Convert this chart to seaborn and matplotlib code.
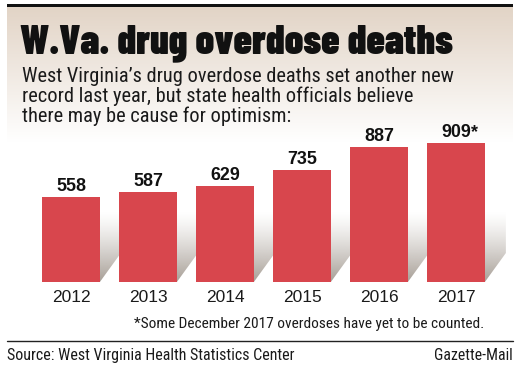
import matplotlib
matplotlib.use("Agg")
import numpy as np
import matplotlib.pyplot as plt
from matplotlib import font_manager as fm
from matplotlib.patches import Rectangle, PathPatch
from matplotlib.path import Path
from matplotlib.colors import to_rgb
import seaborn as sns

# ---- data ----
years = ["2012", "2013", "2014", "2015", "2016", "2017"]
deaths = [558, 587, 629, 735, 887, 909]
notes = ["", "", "", "", "", "*"]

title = "W.Va. drug overdose deaths"
subtitle_lines = [
    "West Virginia\u2019s drug overdose deaths set another new",
    "record last year, but state health officials believe",
    "there may be cause for optimism:",
]
footnote = "*Some December 2017 overdoses have yet to be counted."
source = "Source: West Virginia Health Statistics Center"
credit = "Gazette-Mail"

# ---- fonts ----
available = {f.name for f in fm.fontManager.ttflist}


def pick(cands):
    for c in cands:
        if c in available:
            return c
    return "DejaVu Sans"


F_TITLE = pick(["Barlow Condensed", "Archivo Narrow", "Asap Condensed", "DejaVu Sans"])
F_COND = pick(["Roboto Condensed", "Archivo Narrow", "Barlow Semi Condensed", "Liberation Sans Narrow", "Liberation Sans"])
F_SANS = pick(["Liberation Sans", "Arimo", "DejaVu Sans"])

sns.set_style("white")

W, H = 525, 375
fig = plt.figure(figsize=(W / 100, H / 100), dpi=100)
fig.patch.set_facecolor("white")

# background/decor axes in pixel coordinates (origin top-left)
bg = fig.add_axes([0, 0, 1, 1])
bg.set_xlim(0, W)
bg.set_ylim(H, 0)
bg.axis("off")

# beige gradient header box
top_c = np.array(to_rgb("#e2d4c6"))
grad = np.linspace(0, 1, 256)[:, None]
img = top_c[None, None, :] * (1 - grad[..., None]) + np.ones(3)[None, None, :] * grad[..., None]
img = np.repeat(img, 2, axis=1)
bg.imshow(img, extent=(7, 513, 142, 7), aspect="auto", interpolation="bilinear", zorder=0)
bg.set_xlim(0, W)
bg.set_ylim(H, 0)
bg.add_patch(Rectangle((7, 3.5), 506, 3.6, color="#111111", lw=0, zorder=2))
bg.plot([7, 513], [341, 341], color="#222222", lw=1.0, zorder=2)

renderer = fig.canvas.get_renderer()


def fit_text(axx, x, y, s, width_px, ha="left", **kw):
    t = axx.text(x, y, s, fontsize=10, ha=ha, va="baseline", **kw)
    w = t.get_window_extent(renderer).width
    t.set_fontsize(10 * width_px / w)
    return t


fit_text(bg, 20, 53, title, 433, family=F_TITLE, fontweight=900, color="#111111", zorder=3)
t1 = fit_text(bg, 22, 81.7, subtitle_lines[0], 427, family=F_COND, color="#1a1a1a", zorder=3)
sub_fs = t1.get_fontsize()
bg.text(22, 101.7, subtitle_lines[1], fontsize=sub_fs, family=F_COND, color="#1a1a1a", va="baseline", zorder=3)
bg.text(22, 121.7, subtitle_lines[2], fontsize=sub_fs, family=F_COND, color="#1a1a1a", va="baseline", zorder=3)

fit_text(bg, 484, 328.3, footnote, 347, ha="right", family=F_COND, color="#1a1a1a", zorder=3)
fit_text(bg, 7, 360, source, 285, family=F_COND, color="#1a1a1a", zorder=3)
fit_text(bg, 513, 360, credit, 78, ha="right", family=F_COND, color="#1a1a1a", zorder=3)

# ---- bar axes: data coords mapped onto figure pixels ----
ax = fig.add_axes([0, 0, 1, 1])
ax.patch.set_alpha(0)
k = 0.1527          # pixels per death
base_px = 282       # baseline (from top)
x0_px, step_px = 71, 77

sns.barplot(x=years, y=deaths, color="#d8464d", saturation=1, width=0.75,
            linewidth=0, ax=ax, zorder=3)
ax.set_xlim(-x0_px / step_px, (W - x0_px) / step_px)
ax.set_ylim(-(H - base_px) / k, base_px / k)
ax.axis("off")

# 3D-ish side shadows (gradient clipped to parallelograms)
half = 0.375
dx = 21 / step_px
dy = 29 / k
top = 460
paths = []
for i, v in enumerate(deaths):
    xr = i + half
    verts = [(xr, 0), (xr + dx, dy), (xr + dx, min(top, v + dy)), (xr, min(top, v)), (xr, 0)]
    paths.append(Path(verts, [Path.MOVETO, Path.LINETO, Path.LINETO, Path.LINETO, Path.CLOSEPOLY]))
clip = PathPatch(Path.make_compound_path(*paths), facecolor="none", edgecolor="none", transform=ax.transData)
ax.add_patch(clip)
sh = np.zeros((256, 2, 4))
g = np.linspace(0, 1, 256)  # 0 at bottom
sh[..., :3] = np.array(to_rgb("#a39a91"))[None, None, :]
sh[..., 3] = ((1 - g) ** 1.3)[:, None] * 0.95
shimg = ax.imshow(sh, extent=(0, len(deaths), 0, top), origin="lower", aspect="auto",
                  interpolation="bilinear", zorder=2)
shimg.set_clip_path(clip)
ax.set_xlim(-x0_px / step_px, (W - x0_px) / step_px)
ax.set_ylim(-(H - base_px) / k, base_px / k)

# value labels
probe = ax.text(0, 0, str(deaths[0]), fontsize=10, family=F_SANS, fontweight="bold")
val_fs = 10 * 30 / probe.get_window_extent(renderer).width
probe.remove()
probe = ax.text(0, 0, years[0], fontsize=10, family=F_SANS)
yr_fs = 10 * 39 / probe.get_window_extent(renderer).width
probe.remove()

for i, (yr, v, n) in enumerate(zip(years, deaths, notes)):
    t = ax.annotate(str(v), xy=(i, v), xytext=(0, 6), textcoords="offset pixels",
                    ha="center", va="baseline", fontsize=val_fs, family=F_SANS,
                    fontweight="bold", color="#111111", zorder=5)
    if n:
        w = t.get_window_extent(renderer).width
        ax.annotate(n, xy=(i, v), xytext=(w / 2, 6), textcoords="offset pixels",
                    ha="left", va="baseline", fontsize=val_fs, family=F_SANS,
                    fontweight="bold", color="#111111", zorder=5)
    ax.annotate(yr, xy=(i, 0), xytext=(0, -19.7), textcoords="offset pixels",
                ha="center", va="baseline", fontsize=yr_fs, family=F_SANS,
                color="#1a1a1a", zorder=5)

fig.savefig("out.png", dpi=100)
